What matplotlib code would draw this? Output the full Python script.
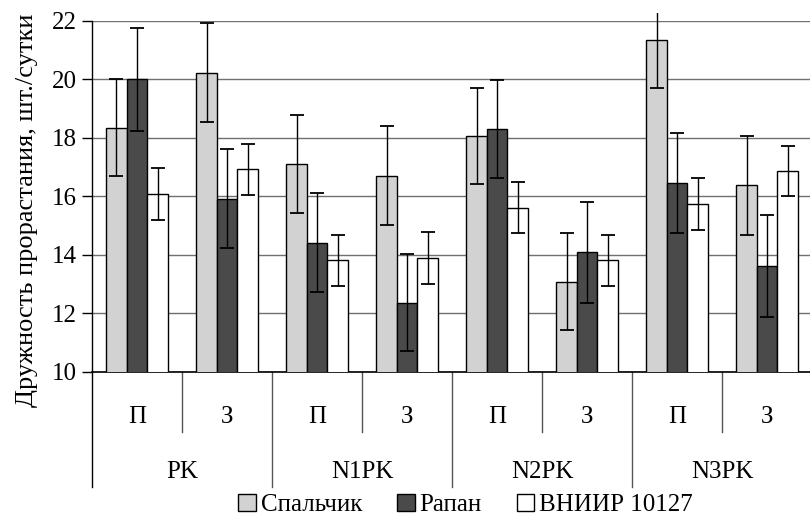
import numpy as np
import matplotlib
matplotlib.use("Agg")
import matplotlib.pyplot as plt
import matplotlib.transforms as mtransforms

plt.rcParams['font.family'] = ['Liberation Serif', 'DejaVu Serif']

groups = ["PK", "N1PK", "N2PK", "N3PK"]
subs = ["П", "З"]
series = ["Спальчик", "Рапан", "ВНИИР 10127"]

spalchik = [18.35, 20.23, 17.1, 16.71, 18.07, 13.09, 21.35, 16.38]
spalchik_err = [1.65, 1.7, 1.68, 1.7, 1.65, 1.67, 1.63, 1.7]
rapan = [20.0, 15.93, 14.42, 12.37, 18.31, 14.09, 16.46, 13.62]
rapan_err = [1.75, 1.7, 1.7, 1.66, 1.67, 1.72, 1.7, 1.75]
vniir = [16.09, 16.93, 13.82, 13.89, 15.61, 13.82, 15.75, 16.87]
vniir_err = [0.9, 0.88, 0.88, 0.89, 0.87, 0.87, 0.88, 0.87]

values = [spalchik, rapan, vniir]
errors = [spalchik_err, rapan_err, vniir_err]
colors = ["#d2d2d2", "#4a4a4a", "white"]

fig = plt.figure(figsize=(8.1, 5.22), dpi=100)
ax = fig.add_axes([0.1136, 0.2874, 0.889, 0.6724])

# clip error bars a little above the top gridline, as in the source chart
clip_box = mtransforms.TransformedBbox(mtransforms.Bbox([[0, -0.01], [1, 1.023]]), ax.transAxes)

x = np.arange(len(spalchik)) + 0.5
w = 0.228
for i in range(3):
    ax.bar(x + (i - 1) * w, values[i], w, bottom=0, color=colors[i], edgecolor="black",
           linewidth=1.0, label=series[i], zorder=3)
    eb = ax.errorbar(x + (i - 1) * w, values[i], yerr=errors[i], fmt="none", ecolor="black",
                     elinewidth=1.0, capsize=5, capthick=1.3, zorder=4)
    for art in list(eb.lines[1]) + list(eb.lines[2]):
        art.set_clip_box(clip_box)

ax.set_ylim(10, 22)
ax.set_xlim(0, 8)
ax.set_yticks(np.arange(10, 23, 2))
ax.tick_params(axis="y", labelsize=18, length=7, width=1, direction="out", pad=4)
ax.set_xticks([])
ax.yaxis.grid(True, color="#707070", linewidth=1.0, zorder=0)
for s in ["top", "right"]:
    ax.spines[s].set_visible(False)
ax.spines["left"].set_linewidth(1.0)
ax.spines["bottom"].set_linewidth(1.2)

ax.set_ylabel("Дружность прорастания, шт./сутки", fontsize=19)
ax.yaxis.set_label_coords(-0.075, 0.46)

# multi-level category axis
trans = mtransforms.blended_transform_factory(ax.transData, ax.transAxes)
ax.plot([0, 0], [0, -0.328], transform=trans, color="black", lw=1.0, clip_on=False)
for k in range(1, 8):
    y_end = -0.328 if k % 2 == 0 else -0.171
    ax.plot([k, k], [0, y_end], transform=trans, color="#555555", lw=1.0, clip_on=False)
for k in range(8):
    ax.text(k + 0.5, -0.128, subs[k % 2], transform=trans, ha="center", va="center", fontsize=18)
for g in range(4):
    ax.text(2 * g + 1, -0.285, groups[g], transform=trans, ha="center", va="center", fontsize=18)

fig.legend(loc="center", bbox_to_anchor=(0.575, 0.033), ncol=3, frameon=False, fontsize=18,
           handlelength=0.7, handleheight=0.7, handletextpad=0.2, columnspacing=1.4,
           borderaxespad=0)

fig.savefig("out.png", dpi=100)
